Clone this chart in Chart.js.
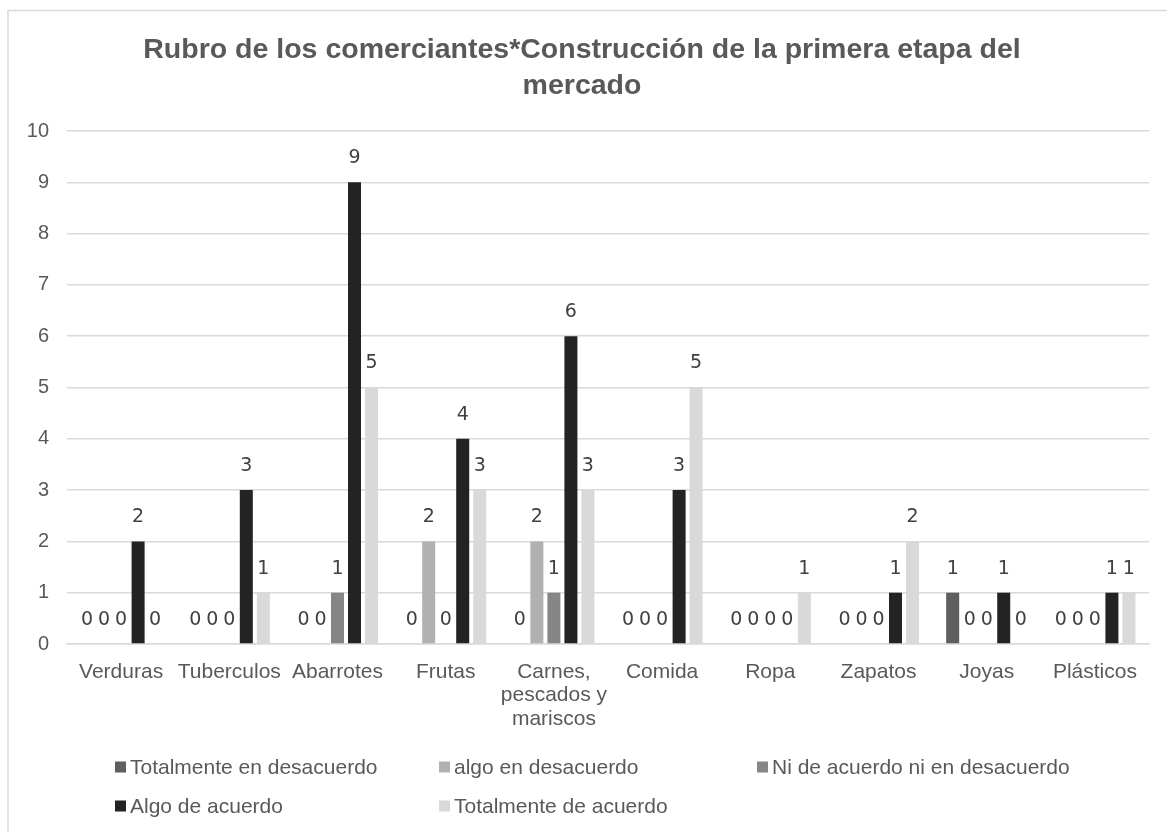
<!DOCTYPE html>
<html>
<head>
<meta charset="utf-8">
<script src="https://cdn.jsdelivr.net/npm/chart.js@4.4.1/dist/chart.umd.min.js"></script>
<style>
  html, body { margin: 0; padding: 0; background: #ffffff; }
  #wrap { position: relative; width: 1167px; height: 832px; }
</style>
</head>
<body>
<div id="wrap"><canvas id="c" width="1167" height="832"></canvas></div>
<script>
const titleLines = ['Rubro de los comerciantes*Construcción de la primera etapa del', 'mercado'];
const categories = ['Verduras', 'Tuberculos', 'Abarrotes', 'Frutas', ['Carnes,', 'pescados y', 'mariscos'], 'Comida', 'Ropa', 'Zapatos', 'Joyas', 'Plásticos'];
const seriesNames = ['Totalmente en desacuerdo', 'algo en desacuerdo', 'Ni de acuerdo ni en desacuerdo', 'Algo de acuerdo', 'Totalmente de acuerdo'];
const totalmenteDesacuerdo = [0, 0, 0, 0, 0, 0, 0, 0, 1, 0];
const algoDesacuerdo       = [0, 0, 0, 2, 2, 0, 0, 0, 0, 0];
const niAcuerdo            = [0, 0, 1, 0, 1, 0, 0, 0, 0, 0];
const algoAcuerdo          = [2, 3, 9, 4, 6, 3, 0, 1, 1, 1];
const totalmenteAcuerdo    = [0, 1, 5, 3, 3, 5, 1, 2, 0, 1];
const seriesColors = ['#5f5f5f', '#b1b1b1', '#868686', '#232323', '#d9d9d9'];
const yTicks = [0, 1, 2, 3, 4, 5, 6, 7, 8, 9, 10];

const seriesValues = [totalmenteDesacuerdo, algoDesacuerdo, niAcuerdo, algoAcuerdo, totalmenteAcuerdo];
const TEXT = '#595959';
const FONT = "'Liberation Sans', Arial, sans-serif";

const decorPlugin = {
  id: 'decor',
  beforeDraw(chart) {
    const ctx = chart.ctx;
    ctx.save();
    ctx.strokeStyle = '#d9d9d9';
    ctx.lineWidth = 1.5;
    ctx.strokeRect(8, 10.5, 1200, 900);
    ctx.fillStyle = TEXT;
    ctx.font = "bold 28.5px " + FONT;
    ctx.textAlign = 'center';
    ctx.textBaseline = 'alphabetic';
    ctx.fillText(titleLines[0], 582, 58);
    ctx.fillText(titleLines[1], 582, 94);
    ctx.restore();
  },
  afterDatasetsDraw(chart) {
    const ctx = chart.ctx;
    ctx.save();
    ctx.font = "19px 'DejaVu Sans', sans-serif";
    ctx.fillStyle = '#404040';
    ctx.textAlign = 'center';
    ctx.textBaseline = 'middle';
    chart.data.datasets.forEach((ds, i) => {
      const meta = chart.getDatasetMeta(i);
      meta.data.forEach((el, j) => {
        ctx.fillText(String(ds.data[j]), el.x, el.y - 24);
      });
    });
    ctx.restore();
  },
  afterDraw(chart) {
    const ctx = chart.ctx;
    ctx.save();
    ctx.font = "21px " + FONT;
    ctx.textBaseline = 'middle';
    ctx.textAlign = 'left';
    const cols = [115, 439, 757];
    const rows = [767, 806];
    chart.data.datasets.forEach((ds, i) => {
      const x = cols[i % 3];
      const y = rows[Math.floor(i / 3)];
      ctx.fillStyle = ds.backgroundColor;
      ctx.fillRect(x, y - 5.5, 11, 11);
      ctx.fillStyle = TEXT;
      ctx.fillText(ds.label, x + 15, y + 1);
    });
    ctx.restore();
  }
};

new Chart(document.getElementById('c'), {
  type: 'bar',
  data: {
    labels: categories,
    datasets: seriesNames.map((name, i) => ({
      label: name,
      data: seriesValues[i],
      backgroundColor: seriesColors[i],
      borderWidth: 0,
      categoryPercentage: 0.786,
      barPercentage: 0.765
    }))
  },
  options: {
    responsive: false,
    animation: false,
    devicePixelRatio: 1,
    layout: { padding: { left: 0, top: 131, right: 18, bottom: 0 } },
    plugins: {
      legend: { display: false },
      title: { display: false },
      tooltip: { enabled: false }
    },
    scales: {
      x: {
        grid: { display: false },
        border: { display: true, color: '#d9d9d9', width: 1.5 },
        ticks: {
          color: TEXT,
          font: { size: 21, family: FONT, lineHeight: 1.1 },
          padding: 9,
          maxRotation: 0,
          autoSkip: false
        },
        afterFit(s) { s.height = 832 - 644; s.paddingLeft = 0; s.paddingRight = 0; }
      },
      y: {
        min: 0,
        max: 10,
        afterBuildTicks(s) { s.ticks = yTicks.map(v => ({ value: v })); },
        grid: { color: '#d9d9d9', lineWidth: 1.5, drawTicks: false },
        border: { display: false },
        ticks: {
          color: TEXT,
          font: { size: 20, family: FONT },
          padding: 18
        },
        afterFit(s) { s.width = 67; s.paddingTop = 0; s.paddingBottom = 0; }
      }
    }
  },
  plugins: [decorPlugin]
});
</script>
</body>
</html>
